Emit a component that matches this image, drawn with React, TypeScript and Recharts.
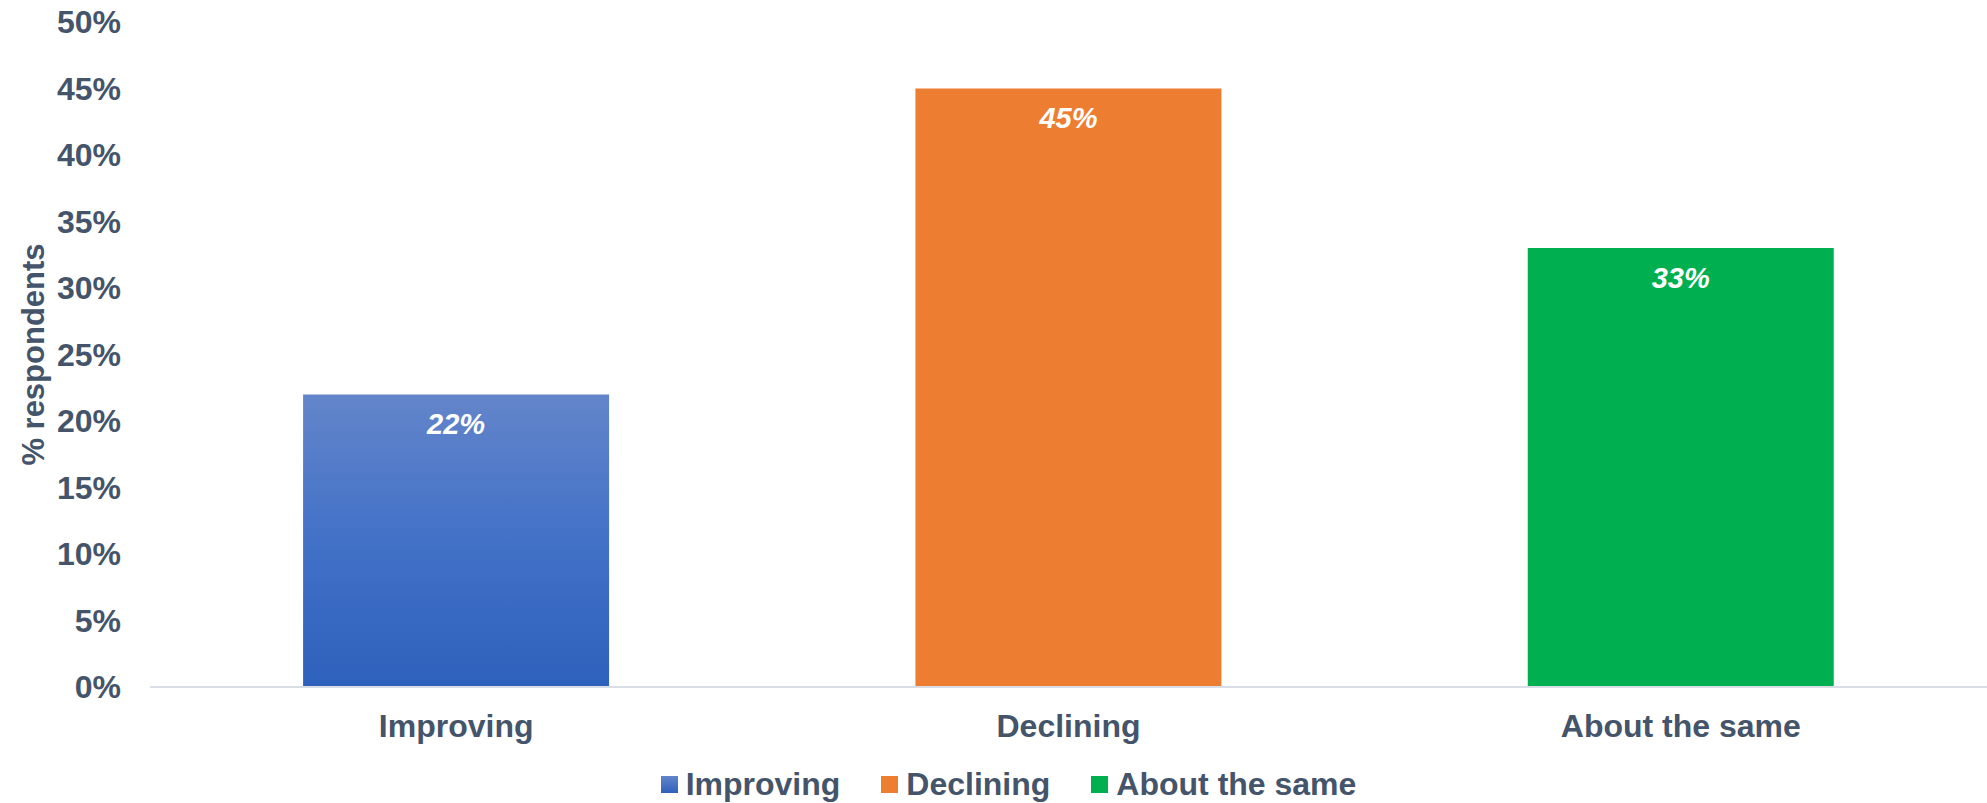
import React from "react";
import {
  BarChart,
  Bar,
  XAxis,
  YAxis,
  Cell,
  LabelList,
  Legend,
} from "recharts";

const categories = ["Improving", "Declining", "About the same"];
const values = [22, 45, 33];
const colors = ["url(#blueGrad)", "#ED7D31", "#00B050"];
const legendColors = ["#4A72C4", "#ED7D31", "#00B050"];
const yTicks = [0, 5, 10, 15, 20, 25, 30, 35, 40, 45, 50];

const data = categories.map((name, i) => ({ name, value: values[i] }));

const FONT = "'Liberation Sans', Arial, Helvetica, sans-serif";
const TEXT = "#44546A";

function LegendContent() {
  return (
    <div
      style={{
        display: "flex",
        justifyContent: "center",
        alignItems: "center",
        paddingLeft: 30,
        fontFamily: FONT,
        fontWeight: 700,
        fontSize: 32,
        color: TEXT,
        lineHeight: "36px",
      }}
    >
      {categories.map((c, i) => (
        <div
          key={c}
          style={{ display: "flex", alignItems: "center", marginRight: i < categories.length - 1 ? 41 : 0 }}
        >
          <span
            style={{
              display: "inline-block",
              width: 17,
              height: 17,
              marginRight: 8,
              background: i === 0 ? "linear-gradient(#6385CA, #2E61BC)" : legendColors[i],
            }}
          />
          <span>{c}</span>
        </div>
      ))}
    </div>
  );
}

export default function App() {
  return (
    <div style={{ position: "absolute", left: 0, top: 0, background: "#fff" }}>
      <BarChart
        width={1987}
        height={803}
        data={data}
        margin={{ top: 22, right: 0, left: 0, bottom: 14 }}
        barCategoryGap="25%"
      >
        <defs>
          <linearGradient id="blueGrad" x1="0" y1="0" x2="0" y2="1">
            <stop offset="0%" stopColor="#6385CA" />
            <stop offset="50%" stopColor="#4271C7" />
            <stop offset="100%" stopColor="#2E61BC" />
          </linearGradient>
        </defs>
        <XAxis
          dataKey="name"
          axisLine={{ stroke: "#D9DEE6", strokeWidth: 2 }}
          tickLine={false}
          tickMargin={21}
          height={66}
          tick={{ fontSize: 32, fontWeight: 700, fill: TEXT, fontFamily: FONT }}
        />
        <YAxis
          width={150}
          domain={[0, 50]}
          ticks={yTicks}
          interval={0}
          axisLine={false}
          tickLine={false}
          tickMargin={23}
          tickFormatter={(v: number) => `${v}%`}
          tick={{ fontSize: 32, fontWeight: 700, fill: TEXT, fontFamily: FONT }}
          label={{
            content: ({ viewBox }: any) => {
              const cy = viewBox.y + viewBox.height / 2;
              return (
                <text
                  x={33}
                  y={cy}
                  transform={`rotate(-90 33 ${cy})`}
                  textAnchor="middle"
                  dominantBaseline="central"
                  fontSize={31}
                  fontWeight={700}
                  fill={TEXT}
                  fontFamily={FONT}
                >
                  % respondents
                </text>
              );
            },
          }}
        />
        <Legend verticalAlign="bottom" wrapperStyle={{ bottom: 1 }} content={<LegendContent />} />
        <Bar dataKey="value" isAnimationActive={false}>
          {data.map((d, i) => (
            <Cell key={d.name} fill={colors[i]} />
          ))}
          <LabelList
            dataKey="value"
            position="insideTop"
            offset={19}
            formatter={(v: number) => `${v}%`}
            style={{
              fill: "#fff",
              fontSize: 29,
              fontWeight: 700,
              fontStyle: "italic",
              fontFamily: FONT,
            }}
          />
        </Bar>
      </BarChart>
    </div>
  );
}
